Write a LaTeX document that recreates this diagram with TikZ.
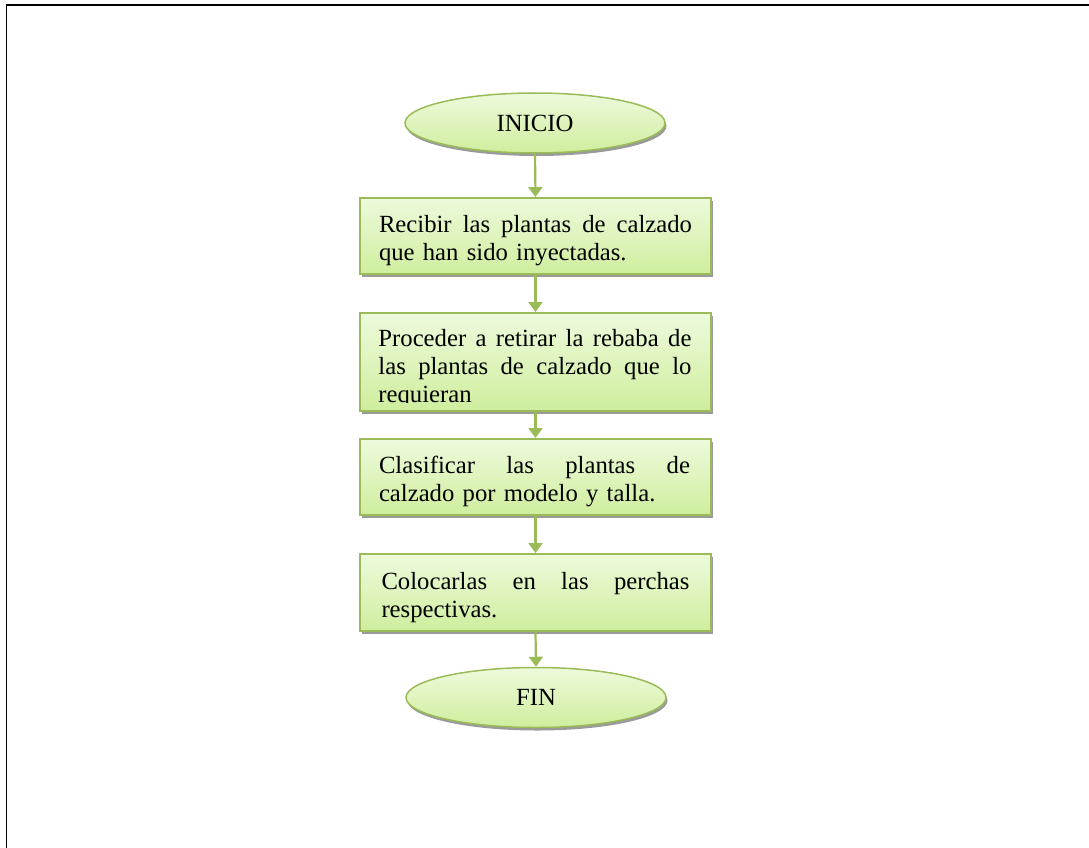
\documentclass[tikz,border=0pt]{standalone}
\usepackage{fontspec}
\setmainfont{Liberation Serif}
\usetikzlibrary{arrows.meta,shapes.geometric,shadows}

\definecolor{flowline}{HTML}{9BBB59}
\definecolor{flowtop}{HTML}{EEFADC}
\definecolor{flowbottom}{HTML}{CFEE9E}
\definecolor{flowshade}{HTML}{9A9A9A}

% struts that fix where the first baseline and the last line sit
\newcommand{\firststrut}{\rule{0pt}{29pt}}
\newcommand{\laststrut}{\rule[-7pt]{0pt}{0pt}}
% a justified line: words separated by \hfill in a box of the given width
\newcommand{\spreadline}[2]{\leavevmode\hbox to #1{#2}}

\begin{document}
\begin{tikzpicture}[x=1pt,y=-1pt,
  font=\fontsize{24.7}{28}\selectfont,
  flowshadow/.style={drop shadow={shadow xshift=1.5pt,shadow yshift=-3pt,fill=flowshade,opacity=1}},
  stepbox/.style={rectangle,draw=flowline,line width=1.5pt,
    top color=flowtop,bottom color=flowbottom,flowshadow,
    anchor=north,minimum width=351pt,text width=313pt,inner xsep=19pt,inner ysep=0pt,align=left},
  terminal/.style={ellipse,draw=flowline,line width=1.5pt,
    top color=flowtop,bottom color=flowbottom,flowshadow,
    minimum width=260pt,minimum height=60pt,inner sep=0pt},
  flowarrow/.style={draw=flowline,line width=2.2pt,-{Triangle[width=14pt,length=10pt]}}]
\useasboundingbox (0,0) rectangle (1089,848);

% page frame
\draw[line width=1.5pt] (6.7,848) -- (6.7,5) -- (1089,5);

% terminals
\node[terminal] (inicio) at (535,123) {INICIO};
\node[terminal] (fin) at (536,697.5) {FIN};

% process steps (first lines are justified to the full column)
\node[stepbox,minimum height=76pt] (s1) at (535.5,197)
  {\firststrut\spreadline{313pt}{Recibir\hfill las\hfill plantas\hfill de\hfill calzado}\\
   que han sido inyectadas.\laststrut};
\node[stepbox,minimum height=98pt] (s2) at (535.5,312) {};
\begin{scope}
  % the third line runs past the bottom margin of its box
  \clip ([yshift=9pt]s2.south west) rectangle (s2.north east);
  \node[anchor=north west,text width=313pt,align=left,inner sep=0pt]
    (s2text) at ([xshift=19pt]s2.north west)
    {\rule{0pt}{34pt}\spreadline{313pt}{Proceder\hfill a\hfill retirar\hfill la\hfill rebaba\hfill de}\\
     \spreadline{313pt}{las\hfill plantas\hfill de\hfill calzado\hfill que\hfill lo}\\
     requieran};
\end{scope}
\node[stepbox,minimum height=76pt] (s3) at (535.5,438)
  {\firststrut\spreadline{311pt}{Clasificar\hfill las\hfill plantas\hfill de}\\
   calzado por modelo y talla.\laststrut};
\node[stepbox,minimum height=77pt,text width=308pt,inner xsep=21.5pt] (s4) at (535.5,553)
  {\firststrut\spreadline{308pt}{Colocarlas\hfill en\hfill las\hfill perchas}\\
   respectivas.\laststrut};

% connectors
\draw[flowarrow] (inicio.south) -- (s1.north);
\draw[flowarrow] (s1.south) -- (s2.north);
\draw[flowarrow] (s2.south) -- (s3.north);
\draw[flowarrow] (s3.south) -- (s4.north);
\draw[flowarrow] (s4.south) -- (fin.north);
\end{tikzpicture}
\end{document}
